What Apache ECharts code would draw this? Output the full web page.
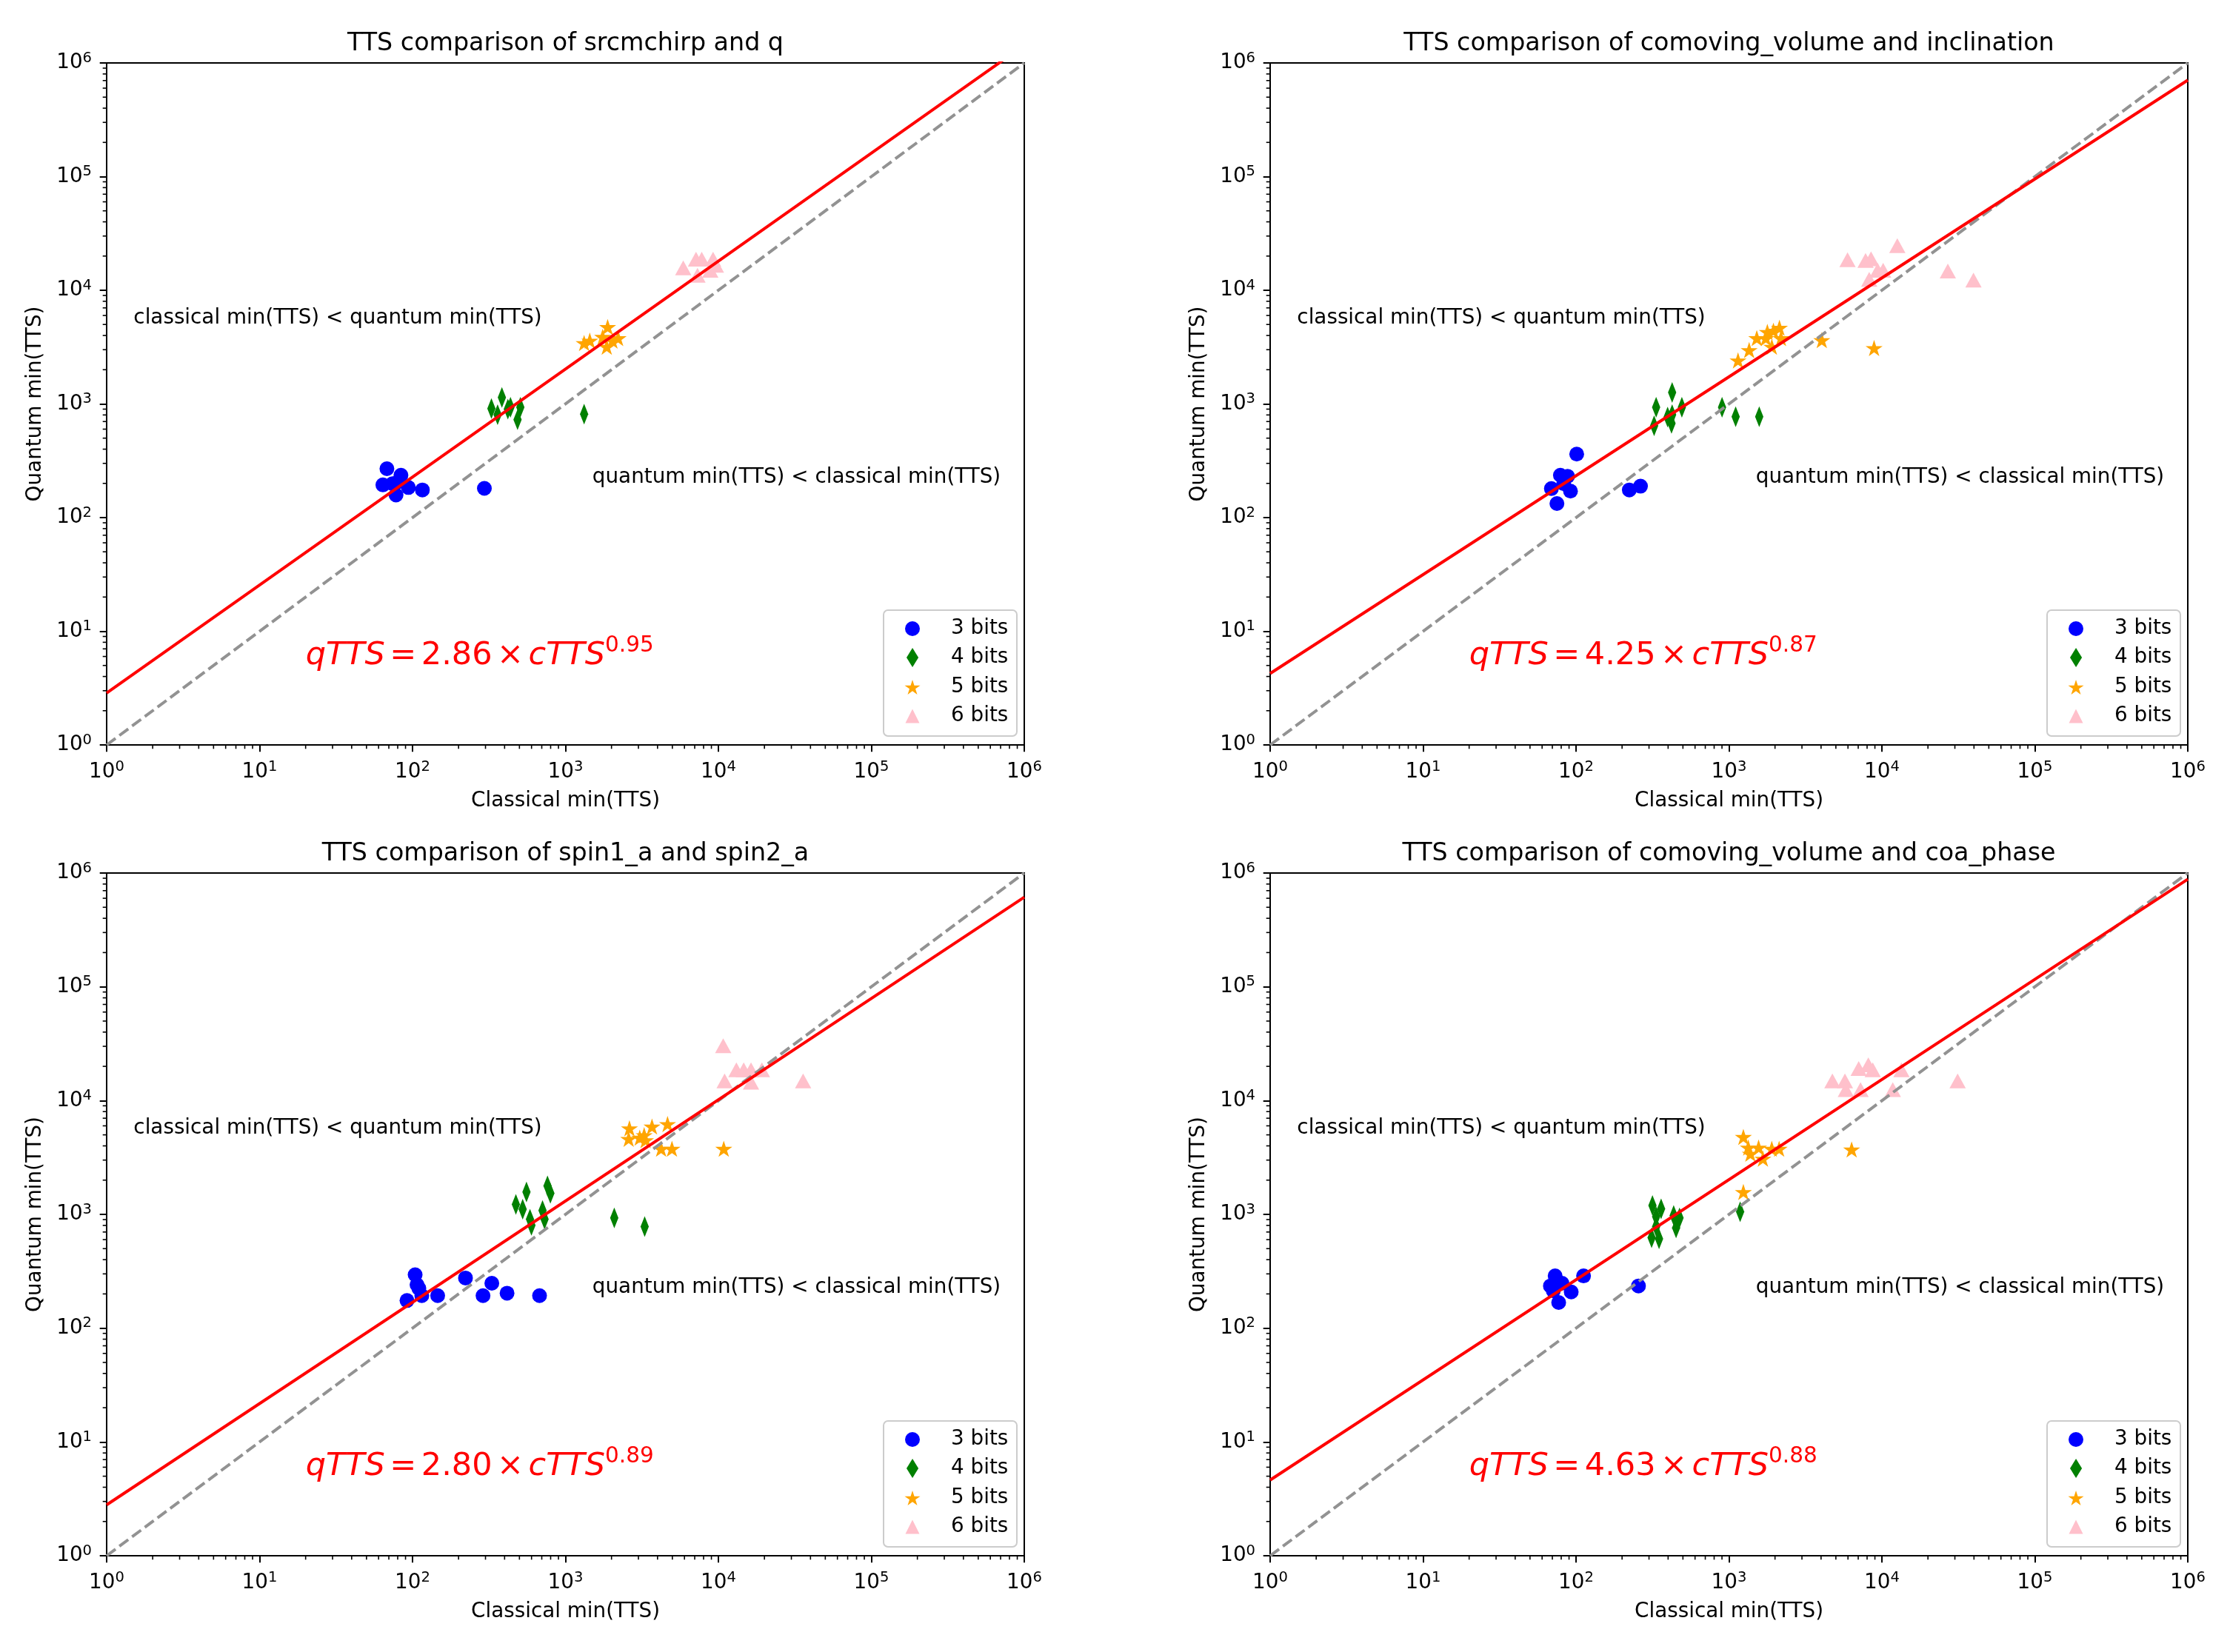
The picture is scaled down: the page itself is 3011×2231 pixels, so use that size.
<!DOCTYPE html>
<html><head><meta charset="utf-8">
<script src="https://cdn.jsdelivr.net/npm/echarts@6/dist/echarts.min.js"></script>
<style>html,body{margin:0;padding:0;background:#fff}#c{width:3011px;height:2231px}</style>
</head><body><div id="c"></div>
<script>
// ---------------- DATA ----------------
const panelTitles = [
  'TTS comparison of srcmchirp and q',
  'TTS comparison of comoving_volume and inclination',
  'TTS comparison of spin1_a and spin2_a',
  'TTS comparison of comoving_volume and coa_phase'
];
const seriesNames = ['3 bits', '4 bits', '5 bits', '6 bits'];
const tickExponents = [0, 1, 2, 3, 4, 5, 6];
const fitCoef = [2.86, 4.25, 2.80, 4.63];
const fitExp = [0.95, 0.87, 0.89, 0.88];
const textClassicalPos = [1.5, 5000];
const textQuantumPos = [1500, 200];
const eqPos = [20, 5];

// panel 1: srcmchirp and q  -> [classical, quantum]
const srcmchirpQ_3bits = [[68,269],[84,236],[64,194],[74,199],[94,184],[78,158],[116,175],[80,205],[295,181]];
const srcmchirpQ_4bits = [[384,1141],[328,912],[360,805],[437,935],[507,935],[486,728],[420,900],[1324,813]];
const srcmchirpQ_5bits = [[1442,3606],[1324,3433],[1887,4750],[1750,3890],[2210,3793],[1862,3186],[2029,3606]];
const srcmchirpQ_6bits = [[5890,15750],[7140,18780],[7780,18780],[9230,18780],[7300,13560],[8850,15000],[9630,16590]];
// panel 2: comoving_volume and inclination
const comovIncl_3bits = [[101,362],[79,236],[88,231],[69,180],[92,171],[83,199],[75,133],[223,175],[264,189]];
const comovIncl_4bits = [[425,1262],[334,935],[492,935],[324,642],[397,766],[425,805],[421,675],[901,935],[1106,773],[1577,773]];
const comovIncl_5bits = [[1146,2415],[1355,2980],[1520,3793],[1782,4300],[2138,4677],[1953,4408],[1742,3793],[2188,3793],[1907,3186],[4045,3641],[8890,3104]];
const comovIncl_6bits = [[5960,18580],[7820,18320],[8490,18900],[12610,24700],[9380,15000],[10190,15000],[8260,12470],[26980,14770],[39700,12280]];
// panel 3: spin1_a and spin2_a
const spin12_3bits = [[104,295],[107,241],[110,224],[92,175],[115,193],[146,193],[222,276],[330,248],[289,193],[415,203],[677,193]];
const spin12_4bits = [[556,1573],[763,1782],[797,1535],[474,1225],[525,1109],[586,907],[708,1080],[730,907],[599,801],[2085,930],[3296,781]];
const spin12_5bits = [[2620,5710],[3680,5910],[4650,6220],[2590,4610],[3060,4720],[3270,4970],[3340,4490],[4220,3770],[4970,3770],[10840,3770]];
const spin12_6bits = [[10750,30300],[13110,18660],[14640,18660],[16340,18660],[19250,18660],[10980,14900],[16340,14520],[35800,14900]];
// panel 4: comoving_volume and coa_phase
const comovCoa_3bits = [[73,288],[68,235],[81,248],[93,208],[77,168],[112,288],[71,213],[256,235]];
const comovCoa_4bits = [[316,1195],[360,1119],[334,955],[435,979],[475,930],[312,624],[349,609],[451,762],[334,781],[1183,1054]];
const comovCoa_5bits = [[1242,4790],[1337,3865],[1562,3865],[1905,3770],[2128,3770],[1380,3410],[1667,3090],[1242,1573],[6340,3715]];
const comovCoa_6bits = [[4745,14900],[5730,14900],[7050,19130],[8150,20620],[8710,18660],[13420,18660],[5810,12500],[7250,12500],[11780,12500],[31270,14900]];

const panelData = [
  [srcmchirpQ_3bits, srcmchirpQ_4bits, srcmchirpQ_5bits, srcmchirpQ_6bits],
  [comovIncl_3bits, comovIncl_4bits, comovIncl_5bits, comovIncl_6bits],
  [spin12_3bits, spin12_4bits, spin12_5bits, spin12_6bits],
  [comovCoa_3bits, comovCoa_4bits, comovCoa_5bits, comovCoa_6bits]
];

// ---------------- STYLE ----------------
const FONT = 'DejaVu Sans';
const FS = 27.8;
const TFS = 33.3;
const EFS = 43;
const colors = ['#0000ff', '#008000', '#ffa500', '#ffc0cb'];
function starPath() {
  let s = 'path://';
  for (let k = 0; k < 10; k++) {
    const a = Math.PI / 2 + k * Math.PI / 5;
    const r = (k % 2) ? 38.2 : 100;
    s += (k ? 'L' : 'M') + (r * Math.cos(a)).toFixed(2) + ',' + (-r * Math.sin(a)).toFixed(2);
  }
  return s + 'Z';
}
const STAR = starPath();
const DIAMOND = 'path://M0,-50L31,0L0,50L-31,0Z';
const TRI = 'path://M0,-50L50,50L-50,50Z';
const symbols = ['circle', DIAMOND, STAR, TRI];
const symbolSizes = [20, [18, 28], 23, [22, 20]];
const legendIconH = [20, 26, 20, 19];
const legendIconW = [20, 16, 21, 19];

const grids = [
  {left: 144, top: 85, width: 1239, height: 921},
  {left: 1715, top: 85, width: 1239, height: 921},
  {left: 144, top: 1179, width: 1239, height: 922},
  {left: 1715, top: 1179, width: 1239, height: 922}
];

const labelRich = {
  b: {fontSize: FS, fontFamily: FONT, color: '#000', lineHeight: 33},
  s: {fontSize: 19.5, fontFamily: FONT, color: '#000', lineHeight: 19.5, verticalAlign: 'top'}
};
function fmtPow(v) {
  const e = Math.round(Math.log10(v));
  return '{b|10}{s|' + e + '}';
}

const option = {
  animation: false,
  backgroundColor: '#fff',
  textStyle: {fontFamily: FONT},
  grid: [], xAxis: [], yAxis: [], series: [], legend: [], graphic: []
};

grids.forEach((g, i) => {
  option.grid.push(Object.assign({show: true, borderColor: '#000', borderWidth: 2,
    backgroundColor: 'transparent', containLabel: false, outerBoundsMode: 'none'}, g));
  const axisCommon = {
    type: 'log', logBase: 10,
    min: Math.pow(10, tickExponents[0]), max: Math.pow(10, tickExponents[tickExponents.length - 1]),
    gridIndex: i, nameLocation: 'middle',
    nameTextStyle: {fontSize: FS, fontFamily: FONT, color: '#000'},
    axisLine: {show: true, onZero: false, lineStyle: {color: '#000', width: 2}},
    axisTick: {show: true, length: 9.3, lineStyle: {color: '#000', width: 2}},
    axisLabel: {show: true, margin: 20, formatter: fmtPow, rich: labelRich, showMinLabel: true, showMaxLabel: true},
    splitLine: {show: false}, minorTick: {show: false}, minorSplitLine: {show: false}
  };
  option.xAxis.push(Object.assign({}, axisCommon, {name: 'Classical min(TTS)', nameGap: 62}));
  option.yAxis.push(Object.assign({}, axisCommon, {name: 'Quantum min(TTS)', nameGap: 82}));

  // scatter series
  panelData[i].forEach((d, k) => {
    option.series.push({
      type: 'scatter', name: seriesNames[k], xAxisIndex: i, yAxisIndex: i,
      data: d, symbol: symbols[k], symbolSize: symbolSizes[k], symbolKeepAspect: true,
      itemStyle: {color: colors[k], opacity: 1}, z: 2, silent: true
    });
  });
  // y = x dashed reference
  const lo = Math.pow(10, tickExponents[0]), hi = Math.pow(10, tickExponents[tickExponents.length - 1]);
  option.series.push({
    type: 'line', xAxisIndex: i, yAxisIndex: i, data: [[lo, lo], [hi, hi]],
    symbol: 'none', clip: true, silent: true, z: 3,
    lineStyle: {color: '#929292', width: 4, type: [15, 6.4]}
  });
  // fit line qTTS = a * cTTS^b
  option.series.push({
    type: 'line', xAxisIndex: i, yAxisIndex: i,
    data: [[lo, fitCoef[i] * Math.pow(lo, fitExp[i])], [hi, fitCoef[i] * Math.pow(hi, fitExp[i])]],
    symbol: 'none', clip: true, silent: true, z: 4,
    lineStyle: {color: '#ff0000', width: 4}
  });
  // minor ticks
  const minor = [];
  for (let e = tickExponents[0]; e < tickExponents[tickExponents.length - 1]; e++) {
    for (let m = 2; m <= 9; m++) {
      minor.push([m * Math.pow(10, e), lo, 0]);
      minor.push([lo, m * Math.pow(10, e), 1]);
    }
  }
  option.series.push({
    type: 'custom', xAxisIndex: i, yAxisIndex: i, data: minor, clip: false, silent: true, z: 5,
    encode: {x: 0, y: 1},
    renderItem: function (params, api) {
      const p = api.coord([api.value(0), api.value(1)]);
      if (api.value(2) === 0) {
        return {type: 'line', shape: {x1: p[0], y1: p[1], x2: p[0], y2: p[1] + 5.3}, style: {stroke: '#000', lineWidth: 1.6}};
      }
      return {type: 'line', shape: {x1: p[0] - 5.3, y1: p[1], x2: p[0], y2: p[1]}, style: {stroke: '#000', lineWidth: 1.6}};
    }
  });
  // annotations
  const eqText = '{i|qTTS}{o|=}{n|' + fitCoef[i].toFixed(2) + '}{o|×}{i|cTTS}{s|' + fitExp[i].toFixed(2) + '}';
  option.series.push({
    type: 'custom', xAxisIndex: i, yAxisIndex: i, clip: false, silent: true, z: 6,
    encode: {x: 0, y: 1},
    data: [[textClassicalPos[0], textClassicalPos[1], 0], [textQuantumPos[0], textQuantumPos[1], 1], [eqPos[0], eqPos[1], 2]],
    renderItem: function (params, api) {
      const p = api.coord([api.value(0), api.value(1)]);
      const idx = api.value(2);
      if (idx === 2) {
        return {type: 'text', x: p[0], y: p[1] - 0.3 * EFS, style: {
          text: eqText, align: 'left', verticalAlign: 'middle', fill: '#ff0000',
          rich: {
            i: {fontSize: EFS, fontFamily: FONT, fontStyle: 'italic', color: '#ff0000', lineHeight: 57},
            n: {fontSize: EFS, fontFamily: FONT, color: '#ff0000', lineHeight: 57},
            o: {fontSize: EFS, fontFamily: FONT, color: '#ff0000', lineHeight: 57, padding: [0, 6.5, 0, 6.5]},
            s: {fontSize: 29.5, fontFamily: FONT, color: '#ff0000', lineHeight: 29.5, verticalAlign: 'top'}
          }
        }};
      }
      const txt = idx === 0 ? 'classical min(TTS) < quantum min(TTS)' : 'quantum min(TTS) < classical min(TTS)';
      return {type: 'text', x: p[0], y: p[1] - 0.3 * FS, style: {
        text: txt, align: 'left', verticalAlign: 'middle', fill: '#000',
        fontSize: FS, fontFamily: FONT
      }};
    }
  });

  // title
  const B = g.top + g.height;
  option.graphic.push({
    type: 'text', x: g.left + g.width / 2, y: g.top - 16 - 0.3 * TFS, z: 10,
    style: {text: panelTitles[i], align: 'center', verticalAlign: 'middle', fontSize: TFS, fontFamily: FONT, fill: '#000'}
  });
  // legend frame
  option.graphic.push({
    type: 'rect', z: 15,
    shape: {x: g.left + 1049, y: B - 182, width: 180, height: 170, r: 6},
    style: {fill: 'rgba(255,255,255,0.8)', stroke: '#cccccc', lineWidth: 2}
  });
  // legend rows
  const rowOff = [-157, -118, -78, -39];
  seriesNames.forEach((nm, k) => {
    option.legend.push({
      data: [{name: nm, icon: symbols[k]}],
      left: g.left + 1088 - legendIconW[k] / 2, top: B + rowOff[k] - 14,
      orient: 'vertical', itemWidth: 94, itemHeight: legendIconH[k], itemGap: 0, padding: 0,
      symbolKeepAspect: true, selectedMode: false, z: 20,
      textStyle: {fontSize: FS, fontFamily: FONT, color: '#000', lineHeight: 28}
    });
  });
});

const chart = echarts.init(document.getElementById('c'), null, {renderer: 'canvas', width: 3011, height: 2231});
chart.setOption(option);
</script></body></html>
